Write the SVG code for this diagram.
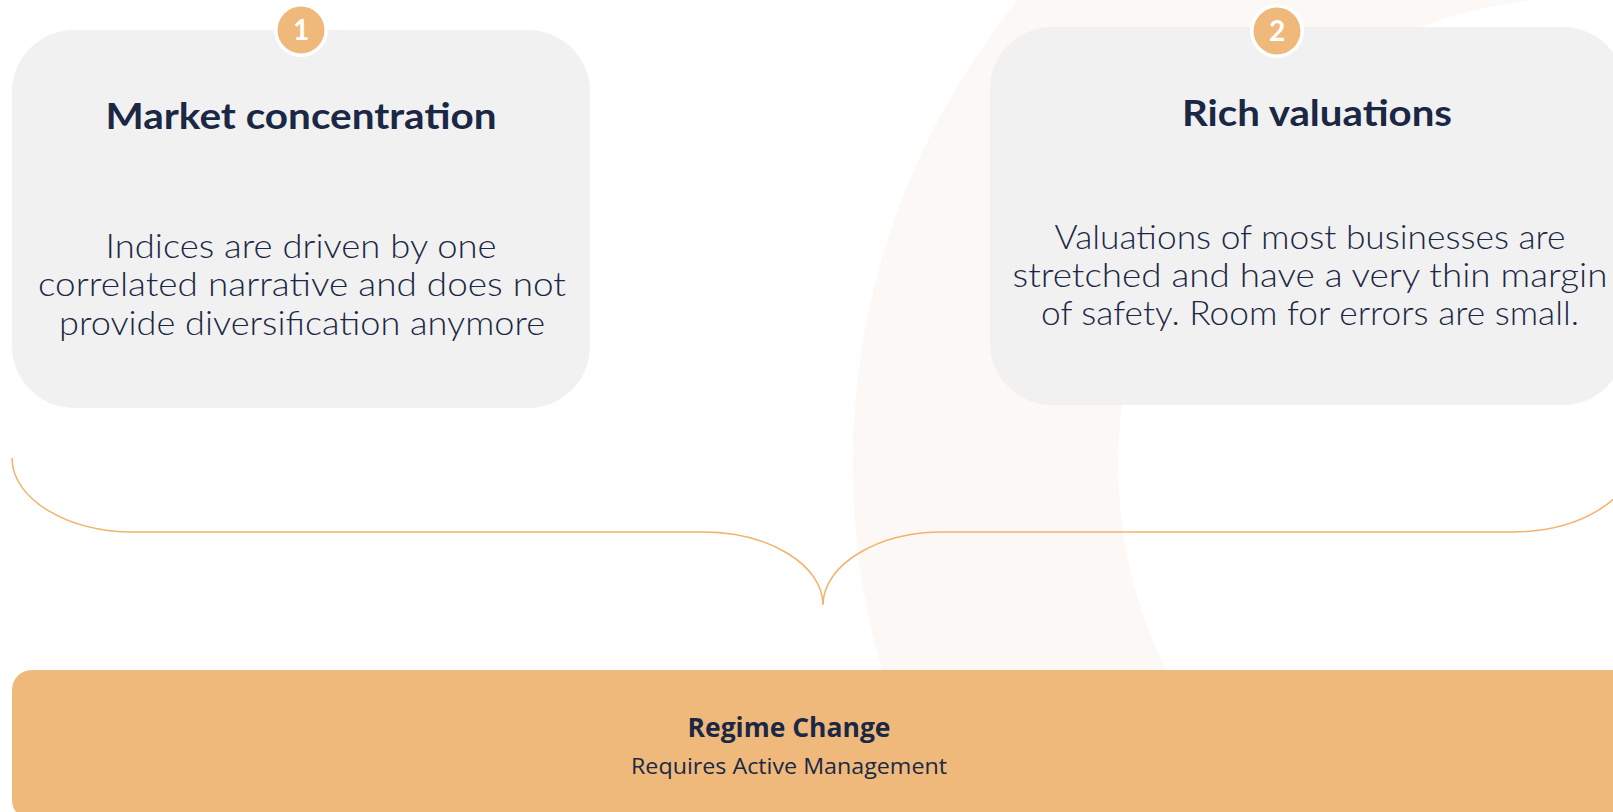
<svg xmlns="http://www.w3.org/2000/svg" width="1613" height="812" viewBox="0 0 1613 812">
  <style>
    .box { fill: #F1F1F1; }
    .badge-ring { fill: #FFFFFF; }
    .badge { fill: #EFB97B; }
    .num { font-family: "Lato", "Liberation Sans", sans-serif; font-weight: 700; font-size: 28px; fill: #FFFFFF; text-anchor: middle; }
    .title { font-family: "Lato", "Liberation Sans", sans-serif; font-weight: 700; font-size: 37px; fill: #1B2845; text-anchor: middle; }
    .body { font-family: "Lato", "Liberation Sans", sans-serif; font-weight: 300; font-size: 33px; fill: #1B2845; text-anchor: middle; }
    .brace { fill: none; stroke: #F4B26C; stroke-width: 1.5; }
    .bar { fill: #EFB97B; }
    .bar-title { font-family: "Open Sans", "Liberation Sans", sans-serif; font-weight: 700; font-size: 26px; fill: #1B2845; text-anchor: middle; }
    .bar-sub { font-family: "Open Sans", "Liberation Sans", sans-serif; font-weight: 400; font-size: 21px; fill: #1B2845; text-anchor: middle; }
  </style>

  <!-- background ring -->
  <path d="M 852.6 464 A 732.4 732.4 0 1 0 2317.4 464 A 732.4 732.4 0 1 0 852.6 464 Z M 1118 464 A 467 467 0 1 0 2052 464 A 467 467 0 1 0 1118 464 Z" fill="#FBF8F5" fill-rule="evenodd"/>

  <g id="node-market-concentration">
    <rect class="box" x="12" y="30" width="578" height="378" rx="62" ry="62"/>
    <circle class="badge-ring" cx="301" cy="30" r="27"/>
    <circle class="badge" cx="301" cy="30" r="23.5"/>
    <text class="num" x="301" y="40">1</text>
    <text class="title" x="301" y="129" textLength="391" lengthAdjust="spacingAndGlyphs">Market concentration</text>
    <text class="body" x="301" y="258" textLength="391" lengthAdjust="spacingAndGlyphs">Indices are driven by one</text>
    <text class="body" x="302" y="296" textLength="528" lengthAdjust="spacingAndGlyphs">correlated narrative and does not</text>
    <text class="body" x="302" y="335" textLength="486" lengthAdjust="spacingAndGlyphs">provide diversification anymore</text>
  </g>

  <g id="node-rich-valuations">
    <rect class="box" x="990" y="27" width="635" height="378" rx="62" ry="62"/>
    <circle class="badge-ring" cx="1277" cy="31" r="27"/>
    <circle class="badge" cx="1277" cy="31" r="23.5"/>
    <text class="num" x="1277" y="41">2</text>
    <text class="title" x="1317" y="126" textLength="270" lengthAdjust="spacingAndGlyphs">Rich valuations</text>
    <text class="body" x="1310" y="249" textLength="511" lengthAdjust="spacingAndGlyphs">Valuations of most businesses are</text>
    <text class="body" x="1310" y="287" textLength="595" lengthAdjust="spacingAndGlyphs">stretched and have a very thin margin</text>
    <text class="body" x="1310" y="325" textLength="538" lengthAdjust="spacingAndGlyphs">of safety. Room for errors are small.</text>
  </g>

  <g id="connectors">
    <path class="brace" d="M 12 458 C 12 499 67 532 134 532 L 703 532 C 769 532 823 565 823 605 C 823 565 877 532 943 532 L 1512 532 C 1579 532 1634 499 1634 458"/>
  </g>

  <g id="node-regime-change">
    <rect class="bar" x="12" y="670" width="1640" height="150" rx="20" ry="20"/>
    <text class="bar-title" x="789" y="737" textLength="203" lengthAdjust="spacingAndGlyphs">Regime Change</text>
    <text class="bar-sub" x="789" y="774" textLength="316" lengthAdjust="spacingAndGlyphs">Requires Active Management</text>
  </g>
</svg>
